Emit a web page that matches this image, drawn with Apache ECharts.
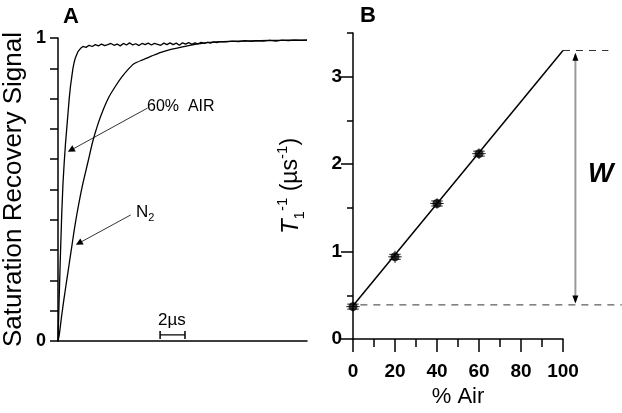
<!DOCTYPE html>
<html>
<head>
<meta charset="utf-8">
<script src="https://cdn.jsdelivr.net/npm/echarts@6/dist/echarts.min.js"></script>
<style>
  html, body { margin: 0; padding: 0; background: #fff; }
  #main { width: 622px; height: 413px; }
</style>
</head>
<body>
<div id="main"></div>
<script>
// panel A: saturation recovery traces (time in µs, normalised signal)
var timeAir = [0, 0.1, 0.2, 0.3, 0.4, 0.5, 0.6, 0.7, 0.8, 0.9, 1.0, 1.1, 1.2, 1.3, 1.4, 1.5, 1.6, 1.7, 1.8, 1.9,
  2.0, 2.25, 2.5, 2.75, 3.0, 3.25, 3.5, 3.75, 4.0, 4.25, 4.5, 4.75, 5.0, 5.25, 5.5, 5.75, 6.0, 6.25, 6.5, 6.75,
  7.0, 7.25, 7.5, 7.75, 8.0, 8.25, 8.5, 8.75, 9.0, 9.25, 9.5, 9.75, 10.0, 10.25, 10.5, 10.75, 11.0, 11.25, 11.5,
  11.75, 12.0, 12.25, 12.5, 12.75, 13.0, 13.5, 14.0, 14.5, 15.0, 15.5, 16.0, 16.5, 17.0, 17.5, 18.0, 18.5, 19.0,
  19.5, 20.0];
var sigAir = [0, 0.15, 0.29, 0.42, 0.52, 0.59, 0.65, 0.70, 0.75, 0.80, 0.84, 0.87, 0.90, 0.92, 0.935, 0.945, 0.955, 0.96, 0.965, 0.962,
  0.972, 0.969, 0.976, 0.972, 0.978, 0.974, 0.98, 0.975, 0.978, 0.982, 0.976, 0.98, 0.974, 0.982, 0.977, 0.984, 0.977, 0.981, 0.975, 0.982,
  0.978, 0.983, 0.977, 0.982, 0.979, 0.976, 0.983, 0.978, 0.984, 0.978, 0.983, 0.976, 0.984, 0.98, 0.985, 0.979, 0.984, 0.981, 0.986,
  0.982, 0.986, 0.983, 0.987, 0.985, 0.988, 0.987, 0.99, 0.988, 0.991, 0.989, 0.991, 0.99, 0.992, 0.99, 0.993, 0.991, 0.993,
  0.992, 0.993];
var timeN2 = [0, 0.1, 0.3, 0.5, 0.7, 0.9, 1.1, 1.3, 1.5, 1.75, 2.0, 2.4, 2.8, 3.2, 3.6, 4.1, 4.6, 5.1, 5.6, 6.1,
  6.8, 7.5, 8.2, 9.0, 10, 11, 12, 13, 14, 15, 16, 17, 18, 19, 20];
var sigN2 = [0, 0.02, 0.085, 0.145, 0.2, 0.255, 0.31, 0.365, 0.415, 0.47, 0.52, 0.59, 0.66, 0.715, 0.76, 0.806, 0.84, 0.87, 0.895, 0.915,
  0.928, 0.94, 0.952, 0.962, 0.971, 0.979, 0.985, 0.988, 0.989, 0.99, 0.991, 0.992, 0.992, 0.993, 0.993];

// panel B: relaxation rate vs % air
var airPct = [0, 20, 40, 60];
var rate = [0.37, 0.94, 1.55, 2.12];
var errX = [3.2, 3.2, 3.2, 3.2];
var errY = [0.06, 0.07, 0.06, 0.06];
var fitX = [0, 100];
var fitY = [0.38, 3.3];
var yTicksB = [0, 1, 2, 3];
var yMinorB = [0.5, 1.5, 2.5, 3.5];
// reference guides and the W span
var guideTop = [[100, 3.3], [121.6, 3.3]];
var guideBase = [[3.5, 0.39], [128, 0.39]];
var spanW = [[105.9, 3.25], [105.9, 0.43]];

var font = 'Arial, "Liberation Sans", sans-serif';

function pairs(xs, ys) {
  return xs.map(function (x, i) { return [x, ys[i]]; });
}

var chart = echarts.init(document.getElementById('main'));

function segment(api, p, q, style) {
  var a = api.coord(p), b = api.coord(q);
  return { type: 'line', shape: { x1: a[0], y1: a[1], x2: b[0], y2: b[1] }, style: style };
}

var option = {
  animation: false,
  backgroundColor: '#fff',
  textStyle: { fontFamily: font, color: '#000' },
  grid: [
    { left: 57, top: 38, width: 250, height: 303 },
    { left: 353, top: 33, width: 210, height: 306 }
  ],
  xAxis: [
    {
      gridIndex: 0, type: 'value', min: 0, max: 20,
      axisLine: { lineStyle: { color: '#000', width: 1.5 } },
      axisTick: { show: false }, axisLabel: { show: false }, splitLine: { show: false }
    },
    {
      gridIndex: 1, type: 'value', min: 0, max: 100, interval: 20,
      name: '% Air', nameLocation: 'middle', nameGap: 46,
      nameTextStyle: { fontSize: 22, color: '#000', fontFamily: font },
      axisLine: { lineStyle: { color: '#000', width: 1.5 } },
      axisTick: { length: 13, lineStyle: { color: '#000', width: 1.5 } },
      minorTick: { show: true, splitNumber: 2, length: 8, lineStyle: { color: '#000', width: 1.5 } },
      axisLabel: { fontSize: 19, fontWeight: 'bold', color: '#000', margin: 23, fontFamily: font },
      splitLine: { show: false }, minorSplitLine: { show: false }
    }
  ],
  yAxis: [
    {
      gridIndex: 0, type: 'value', min: 0, max: 1, interval: 0.1,
      name: 'Saturation Recovery Signal', nameLocation: 'middle', nameGap: 31,
      nameTextStyle: { fontSize: 26, color: '#000', fontFamily: font },
      axisLine: { lineStyle: { color: '#000', width: 1.5 } },
      axisTick: { length: 8, lineStyle: { color: '#000', width: 1.5 } },
      axisLabel: {
        fontSize: 18, fontWeight: 'bold', color: '#000', margin: 12, fontFamily: font,
        formatter: function (v) {
          if (Math.abs(v) < 1e-6) return '0';
          if (Math.abs(v - 1) < 1e-6) return '1';
          return '';
        }
      },
      splitLine: { show: false }
    },
    {
      gridIndex: 1, type: 'value', min: 0, max: 3.5, position: 'left',
      name: '{i|T}{s|1}{p|-1} (µs{p|-1})', nameLocation: 'middle', nameGap: 46,
      nameTextStyle: {
        fontSize: 23, color: '#000', fontFamily: font,
        rich: {
          i: { fontSize: 24, fontStyle: 'italic', fontFamily: font, lineHeight: 32, verticalAlign: 'middle' },
          s: { fontSize: 15, fontFamily: font, verticalAlign: 'bottom', lineHeight: 32 },
          p: { fontSize: 15, fontFamily: font, verticalAlign: 'top', lineHeight: 32 }
        }
      },
      axisLine: { lineStyle: { color: '#000', width: 1.5 } },
      axisTick: { length: 12, customValues: yTicksB, lineStyle: { color: '#000', width: 1.5 } },
      axisLabel: { customValues: yTicksB, fontSize: 19, fontWeight: 'bold', color: '#000', margin: 11, fontFamily: font },
      splitLine: { show: false }
    },
    {
      gridIndex: 1, type: 'value', min: 0, max: 3.5, position: 'left', offset: 0,
      axisLine: { show: false },
      axisTick: { length: 6, customValues: yMinorB, lineStyle: { color: '#000', width: 1.5 } },
      axisLabel: { show: false },
      splitLine: { show: false }
    }
  ],
  graphic: [
    { type: 'text', left: 63, top: 6, style: { text: 'A', fontSize: 22, fontWeight: 'bold', fontFamily: font, fill: '#000' } },
    { type: 'text', left: 360, top: 5, style: { text: 'B', fontSize: 22, fontWeight: 'bold', fontFamily: font, fill: '#000' } },
    { type: 'text', left: 147, top: 99, style: { text: '60%  AIR', fontSize: 16, fontFamily: font, fill: '#000' } },
    {
      type: 'text', left: 136, top: 204,
      style: {
        text: 'N{s|2}', fontSize: 17, fontFamily: font, fill: '#000',
        rich: { s: { fontSize: 11, fontFamily: font, verticalAlign: 'bottom', lineHeight: 22 } }
      }
    },
    { type: 'text', left: 158, top: 312, style: { text: '2µs', fontSize: 17, fontFamily: font, fill: '#000' } },
    { type: 'text', left: 588, top: 161, style: { text: 'W', fontSize: 27, fontWeight: 'bold', fontStyle: 'italic', fontFamily: font, fill: '#000' } }
  ],
  series: [
    {
      name: '60% AIR', type: 'line', xAxisIndex: 0, yAxisIndex: 0,
      data: pairs(timeAir, sigAir), showSymbol: false, symbol: 'none',
      lineStyle: { color: '#000', width: 1.3 },
      markLine: {
        silent: true, symbol: ['none', 'triangle'], symbolSize: 7,
        label: { show: false },
        lineStyle: { color: '#000', width: 0.8, type: 'solid' },
        data: [[{ coord: [7.2, 0.769] }, { coord: [1.04, 0.63] }]]
      }
    },
    {
      name: 'N2', type: 'line', xAxisIndex: 0, yAxisIndex: 0,
      data: pairs(timeN2, sigN2), showSymbol: false, symbol: 'none', smooth: 0.2,
      lineStyle: { color: '#000', width: 1.3 },
      markLine: {
        silent: true, symbol: ['none', 'triangle'], symbolSize: 7,
        label: { show: false },
        lineStyle: { color: '#000', width: 0.8, type: 'solid' },
        data: [[{ coord: [5.84, 0.416] }, { coord: [1.68, 0.323] }]]
      }
    },
    {
      name: 'scale', type: 'line', xAxisIndex: 0, yAxisIndex: 0,
      data: [[8.2, 0.02], [10.2, 0.02]], symbol: 'rect', symbolSize: [1.5, 8], showSymbol: true,
      itemStyle: { color: '#000' }, lineStyle: { color: '#000', width: 1.3 }
    },
    {
      name: 'fit', type: 'line', xAxisIndex: 1, yAxisIndex: 1,
      data: pairs(fitX, fitY), symbol: 'none',
      lineStyle: { color: '#000', width: 1.5 }
    },
    {
      name: 'errors', type: 'custom', xAxisIndex: 1, yAxisIndex: 1,
      data: airPct.map(function (x, i) { return [x, rate[i], errX[i], errY[i]]; }),
      renderItem: function (params, api) {
        var x = api.value(0), y = api.value(1), ex = api.value(2), ey = api.value(3);
        var c = api.coord([x, y]);
        var l = api.coord([x - ex, y]), r = api.coord([x + ex, y]);
        var t = api.coord([x, y + ey]), b = api.coord([x, y - ey]);
        var st = { stroke: '#222', lineWidth: 1 };
        return {
          type: 'group',
          children: [
            { type: 'line', shape: { x1: l[0], y1: c[1], x2: r[0], y2: c[1] }, style: st },
            { type: 'line', shape: { x1: l[0] + 1, y1: c[1] - 2.5, x2: r[0] - 1, y2: c[1] - 2.5 }, style: st },
            { type: 'line', shape: { x1: l[0] + 1, y1: c[1] + 2.5, x2: r[0] - 1, y2: c[1] + 2.5 }, style: st },
            { type: 'line', shape: { x1: c[0], y1: t[1], x2: c[0], y2: b[1] }, style: st }
          ]
        };
      }
    },
    {
      name: 'points', type: 'scatter', xAxisIndex: 1, yAxisIndex: 1,
      data: pairs(airPct, rate), symbol: 'circle', symbolSize: 9,
      itemStyle: { color: '#000' }
    },
    {
      name: 'guides', type: 'custom', xAxisIndex: 1, yAxisIndex: 1, clip: false,
      data: [0],
      renderItem: function (params, api) {
        var dash = { stroke: '#333', lineWidth: 1, lineDash: [7, 6] };
        var gray = { stroke: '#999', lineWidth: 2 };
        var top = api.coord(spanW[0]), bot = api.coord(spanW[1]);
        return {
          type: 'group',
          children: [
            segment(api, guideTop[0], guideTop[1], dash),
            segment(api, guideBase[0], guideBase[1], dash),
            segment(api, spanW[0], spanW[1], gray),
            { type: 'polygon', shape: { points: [[top[0], top[1] - 2], [top[0] - 3, top[1] + 6], [top[0] + 3, top[1] + 6]] }, style: { fill: '#000' } },
            { type: 'polygon', shape: { points: [[bot[0], bot[1] + 2], [bot[0] - 3, bot[1] - 6], [bot[0] + 3, bot[1] - 6]] }, style: { fill: '#000' } }
          ]
        };
      }
    }
  ]
};

chart.setOption(option);
</script>
</body>
</html>
